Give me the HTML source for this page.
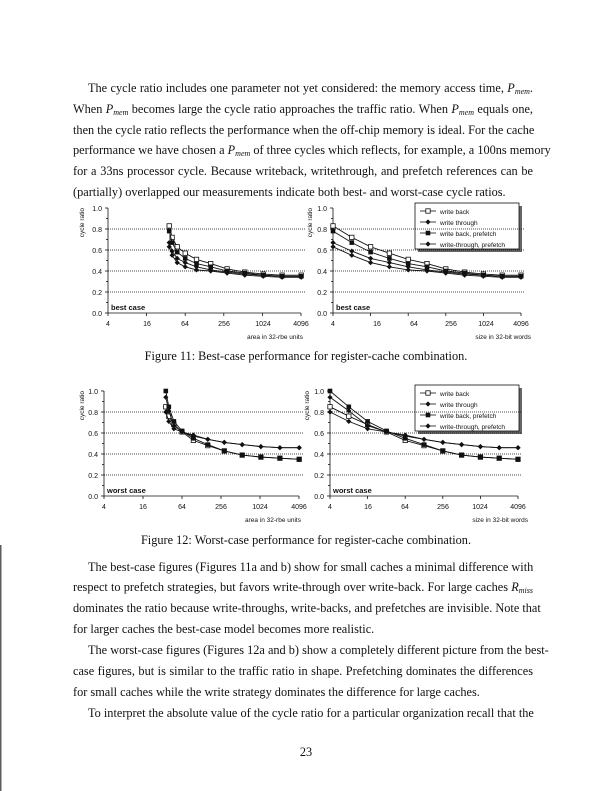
<!DOCTYPE html>
<html><head><meta charset="utf-8"><style>
body{margin:0;background:#fff;}
#pg{position:relative;width:612px;height:791px;overflow:hidden;background:#fff;font-family:"Liberation Serif",serif;font-size:12.3px;color:#111;}
.l{position:absolute;left:73px;width:460px;text-align:justify;text-align-last:justify;white-space:nowrap;line-height:14px;}
.l.e{text-align-last:left;}
.c{position:absolute;left:0;width:612px;text-align:center;line-height:14px;}
svg{position:absolute;left:0;top:0;}
svg text{font-family:"Liberation Sans",sans-serif;}
i{font-style:italic;}
sub{font-size:8px;font-style:italic;vertical-align:-2px;line-height:0;}
</style></head><body><div id="pg">
<div class="l" style="top:81px;left:88px;width:445px;">The cycle ratio includes one parameter not yet considered: the memory access time, <i>P</i><sub>mem</sub>.</div>
<div class="l" style="top:102px;">When <i>P</i><sub>mem</sub> becomes large the cycle ratio approaches the traffic ratio. When <i>P</i><sub>mem</sub> equals one,</div>
<div class="l" style="top:123px;">then the cycle ratio reflects the performance when the off-chip memory is ideal. For the cache</div>
<div class="l" style="top:143px;">performance we have chosen a <i>P</i><sub>mem</sub> of three cycles which reflects, for example, a 100ns memory</div>
<div class="l" style="top:164px;">for a 33ns processor cycle. Because writeback, writethrough, and prefetch references can be</div>
<div class="l e" style="top:185px;">(partially) overlapped our measurements indicate both best- and worst-case cycle ratios.</div>
<div class="c" style="top:349px;">Figure 11: Best-case performance for register-cache combination.</div>
<div class="c" style="top:533px;">Figure 12: Worst-case performance for register-cache combination.</div>
<div class="l" style="top:560px;left:88px;width:445px;">The best-case figures (Figures 11a and b) show for small caches a minimal difference with</div>
<div class="l" style="top:580px;">respect to prefetch strategies, but favors write-through over write-back. For large caches <i>R</i><sub>miss</sub></div>
<div class="l" style="top:601px;">dominates the ratio because write-throughs, write-backs, and prefetches are invisible. Note that</div>
<div class="l e" style="top:622px;">for larger caches the best-case model becomes more realistic.</div>
<div class="l" style="top:643px;left:88px;width:445px;">The worst-case figures (Figures 12a and b) show a completely different picture from the best-</div>
<div class="l" style="top:664px;">case figures, but is similar to the traffic ratio in shape. Prefetching dominates the differences</div>
<div class="l e" style="top:685px;">for small caches while the write strategy dominates the difference for large caches.</div>
<div class="l" style="top:706px;left:88px;width:445px;">To interpret the absolute value of the cycle ratio for a particular organization recall that the</div>
<div class="c" style="top:745px;">23</div>
<svg id="s" width="612" height="791" viewBox="0 0 612 791">
<line x1="0.8" y1="545" x2="0.8" y2="791" stroke="#333" stroke-width="1.2"/>
<g font-size="7" fill="#111">
<text x="84" y="208" transform="rotate(-90 84 208)" text-anchor="end" font-size="6.5">cycle ratio</text>
<g text-anchor="end"><text x="102" y="211">1.0</text><text x="102" y="232">0.8</text><text x="102" y="253">0.6</text><text x="102" y="274">0.4</text><text x="102" y="295">0.2</text><text x="102" y="316">0.0</text></g>
<g text-anchor="middle"><text x="108" y="326">4</text><text x="147" y="326">16</text><text x="185" y="326">64</text><text x="224" y="326">256</text><text x="263" y="326">1024</text><text x="301" y="326">4096</text></g>
<text x="303" y="339" text-anchor="end" font-size="6.5">area in 32-rbe units</text>
<text x="111" y="310" font-weight="bold" font-size="7.5">best case</text>
<text x="312" y="208" transform="rotate(-90 312 208)" text-anchor="end" font-size="6.5">cycle ratio</text>
<g text-anchor="end"><text x="327" y="211">1.0</text><text x="327" y="232">0.8</text><text x="327" y="253">0.6</text><text x="327" y="274">0.4</text><text x="327" y="295">0.2</text><text x="327" y="316">0.0</text></g>
<g text-anchor="middle"><text x="333" y="326">4</text><text x="377" y="326">16</text><text x="414" y="326">64</text><text x="451" y="326">256</text><text x="486" y="326">1024</text><text x="521" y="326">4096</text></g>
<text x="531" y="339" text-anchor="end" font-size="6.5">size in 32-bit words</text>
<text x="336" y="310" font-weight="bold" font-size="7.5">best case</text>
<text x="84" y="391" transform="rotate(-90 84 391)" text-anchor="end" font-size="6.5">cycle ratio</text>
<g text-anchor="end"><text x="98" y="394">1.0</text><text x="98" y="415">0.8</text><text x="98" y="436">0.6</text><text x="98" y="457">0.4</text><text x="98" y="478">0.2</text><text x="98" y="499">0.0</text></g>
<g text-anchor="middle"><text x="104" y="509">4</text><text x="143" y="509">16</text><text x="182" y="509">64</text><text x="221" y="509">256</text><text x="260" y="509">1024</text><text x="299" y="509">4096</text></g>
<text x="301" y="522" text-anchor="end" font-size="6.5">area in 32-rbe units</text>
<text x="107" y="493" font-weight="bold" font-size="7.5">worst case</text>
<text x="309" y="391" transform="rotate(-90 309 391)" text-anchor="end" font-size="6.5">cycle ratio</text>
<g text-anchor="end"><text x="324" y="394">1.0</text><text x="324" y="415">0.8</text><text x="324" y="436">0.6</text><text x="324" y="457">0.4</text><text x="324" y="478">0.2</text><text x="324" y="499">0.0</text></g>
<g text-anchor="middle"><text x="330" y="509">4</text><text x="368" y="509">16</text><text x="405" y="509">64</text><text x="443" y="509">256</text><text x="480" y="509">1024</text><text x="518" y="509">4096</text></g>
<text x="528" y="522" text-anchor="end" font-size="6.5">size in 32-bit words</text>
<text x="333" y="493" font-weight="bold" font-size="7.5">worst case</text>
<g font-size="6.5">
<rect x="418" y="206" width="104" height="46" fill="#666"/>
<rect x="415" y="203" width="104" height="46" fill="#fff" stroke="#111" stroke-width="0.8"/>
<text x="440" y="214">write back</text><text x="440" y="225">write through</text><text x="440" y="236">write back, prefetch</text><text x="440" y="247">write-through, prefetch</text>
<rect x="418" y="388" width="104" height="46" fill="#666"/>
<rect x="415" y="385" width="104" height="46" fill="#fff" stroke="#111" stroke-width="0.8"/>
<text x="440" y="396">write back</text><text x="440" y="407">write through</text><text x="440" y="418">write back, prefetch</text><text x="440" y="429">write-through, prefetch</text>
</g>
</g>
<g id="g"></g>
</svg>
</div>
<script>
var g=document.getElementById('g'),h='';
function ln(a,b,c,d,ex){h+='<line x1="'+a+'" y1="'+b+'" x2="'+c+'" y2="'+d+'" stroke="#111" stroke-width="0.8" '+(ex||'')+'/>';}
function mk(t,x,y){x=x.toFixed(1);y=y.toFixed(1);
 if(t==0)h+='<rect x="'+(x-2.2)+'" y="'+(y-2.2)+'" width="4.4" height="4.4" fill="#fff" stroke="#111" stroke-width="0.8"/>';
 else if(t==2)h+='<rect x="'+(x-2.3)+'" y="'+(y-2.3)+'" width="4.6" height="4.6" fill="#111"/>';
 else h+='<path d="M'+x+' '+(y-2.6)+'L'+(+x+2.6)+' '+y+'L'+x+' '+(+y+2.6)+'L'+(x-2.6)+' '+y+'Z" fill="#111"/>';}
var B=[[.83,.72,.63,.57,.51,.47,.42,.39,.37,.36,.36],[.67,.59,.52,.48,.44,.41,.39,.37,.36,.35,.35],[.78,.67,.58,.52,.47,.44,.40,.38,.36,.35,.35],[.63,.55,.48,.44,.41,.40,.38,.36,.35,.34,.34]];
var W=[[.85,.76,.68,.61,.53,.48,.43,.39,.37,.36,.35],[.94,.81,.67,.61,.57,.54,.51,.49,.47,.46,.46],[1,.85,.71,.62,.55,.49,.43,.39,.37,.36,.35],[.80,.71,.64,.61,.58,.54,.51,.49,.47,.46,.46]];
function chart(x0,x1,yt,yb,D,area){
 var X=function(v){return x0+(x1-x0)*Math.log(v/4)/Math.log(1024);},Y=function(v){return yb-(yb-yt)*v;};
 for(var k=1;k<5;k++)ln(x0,Y(k*.2),x1+4,Y(k*.2),'stroke-dasharray="1 1" stroke-width="0.7"');
 ln(x0,yt,x0,yb);ln(x0,yb,x1,yb);
 for(k=0;k<=10;k++)ln(x0-(k%2?2:3),Y(k/10),x0,Y(k/10));
 for(k=0;k<6;k++){var xx=X(Math.pow(4,k+1));ln(xx,yb,xx,yb+3);}
 D.forEach(function(s,t){var p='';s.forEach(function(v,i){var sz=4*Math.pow(2,i);var xx=X(area?sz+32:sz);p+=(i?'L':'M')+xx.toFixed(1)+' '+Y(v).toFixed(1);});
  h+='<path d="'+p+'" fill="none" stroke="#111" stroke-width="0.9"/>';
  s.forEach(function(v,i){var sz=4*Math.pow(2,i);mk(t,X(area?sz+32:sz),Y(v));});});
}
chart(108,301,208,313,B,1);chart(333,521,208,313,B,0);
chart(104,299,391,496,W,1);chart(330,518,391,496,W,0);
[208,390].forEach(function(y0){for(var t=0;t<4;t++){var y=y0+11*t+3;ln(420,y,436,y);mk(t,428,y);}});
g.innerHTML=h;
</script>
</body></html>
